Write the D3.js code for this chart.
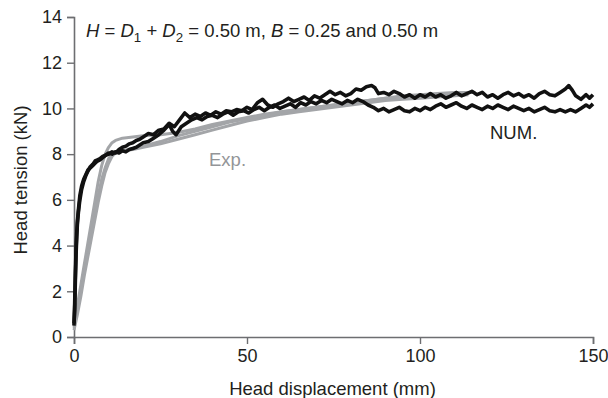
<!DOCTYPE html>
<html>
<head>
<meta charset="utf-8">
<script src="https://cdn.jsdelivr.net/npm/d3@7"></script>
<style>
  html, body { margin: 0; padding: 0; background: #fff; }
  svg { display: block; }
  text { font-family: "Liberation Sans", Arial, sans-serif; fill: #231f20; }
</style>
</head>
<body>
<svg id="chart" width="608" height="398"></svg>
<script>
// ---- Data ----
const xTicks = [0, 50, 100, 150];
const yTicks = [0, 2, 4, 6, 8, 10, 12, 14];
const xLabel = "Head displacement (mm)";
const yLabel = "Head tension (kN)";

// Numerical results (two runs): [displacement mm, tension kN]
const numA = [[0,0.5],[0.2,1.5],[0.4,2.8],[0.6,3.9],[0.8,4.6],[1.0,5.1],[1.3,5.6],[1.7,6.2],[2.2,6.6],[2.8,6.9],[3.4,7.1],[4.0,7.3],[4.7,7.4],[5.4,7.5],[6.1,7.6],[6.8,7.7],[7.5,7.75],[8.3,7.85],[9.1,7.95],[10,8.0],[11,8.1],[12,8.05],[13,8.2],[14,8.3],[15,8.35],[16,8.45],[17,8.5],[18,8.6],[19,8.65],[20,8.75],[21.5,8.9],[23,8.85],[24.5,9.05],[26,9.1],[27.5,9.35],[29,9.2],[30.5,9.5],[32,9.8],[33.5,9.6],[35,9.75],[36.5,9.65],[38,9.8],[39.5,9.7],[41,9.85],[42.5,9.75],[44,9.9],[45.5,9.85],[47,9.95],[48.5,9.9],[50,10.05],[51.5,9.95],[53,10.25],[54.5,10.4],[56,10.15],[57.5,10.05],[59,10.2],[60.5,10.3],[62,10.45],[63.5,10.3],[65,10.4],[66.5,10.5],[68,10.35],[69.5,10.55],[71,10.45],[72.5,10.6],[74,10.75],[75.5,10.6],[77,10.7],[78.5,10.55],[80,10.65],[81.5,10.85],[83,10.8],[84.5,10.95],[86,11.0],[87,10.9],[88,10.65],[89.5,10.7],[91,10.6],[92.5,10.75],[94,10.65],[95.5,10.5],[97,10.6],[98.5,10.45],[100,10.6],[101.5,10.5],[103,10.65],[104.5,10.5],[106,10.6],[107.5,10.45],[109,10.55],[110.5,10.7],[112,10.55],[113.5,10.65],[115,10.75],[116.5,10.6],[118,10.7],[119.5,10.5],[121,10.6],[122.5,10.45],[124,10.6],[125.5,10.7],[127,10.55],[128.5,10.65],[130,10.5],[131.5,10.6],[133,10.45],[134.5,10.65],[136,10.75],[137.5,10.6],[139,10.55],[140.5,10.7],[142,10.85],[143,11.0],[144,10.8],[145,10.55],[146.5,10.4],[148,10.6],[149,10.45],[150,10.6]];
const numB = [[0,0.6],[0.2,1.2],[0.4,2.5],[0.6,3.6],[0.8,4.4],[1.0,5.0],[1.3,5.5],[1.7,6.0],[2.2,6.45],[2.8,6.8],[3.4,7.05],[4.0,7.25],[4.7,7.45],[5.4,7.55],[6.1,7.7],[6.8,7.75],[7.5,7.8],[8.3,7.9],[9.1,7.95],[10,8.05],[11,8.0],[12,8.1],[13,8.05],[14,8.15],[15,8.1],[16,8.2],[17,8.25],[18,8.3],[19,8.4],[20,8.5],[21.5,8.55],[23,8.7],[24.5,8.85],[26,9.05],[27.5,9.3],[28.5,9.0],[29.5,8.85],[31,9.2],[32.5,9.35],[34,9.5],[35.5,9.6],[37,9.5],[38.5,9.65],[40,9.7],[41.5,9.6],[43,9.75],[44.5,9.85],[46,9.7],[47.5,9.85],[49,9.9],[50.5,9.8],[52,9.95],[53.5,10.05],[55,9.9],[56.5,10.05],[58,10.15],[59.5,10.0],[61,10.1],[62.5,10.2],[64,10.05],[65.5,10.25],[67,10.15],[68.5,10.3],[70,10.2],[71.5,10.35],[73,10.25],[74.5,10.4],[76,10.3],[77.5,10.2],[79,10.35],[80.5,10.25],[82,10.4],[83.5,10.3],[85,10.15],[86.5,10.05],[88,9.9],[89.5,10.0],[91,9.85],[92.5,9.95],[94,10.05],[95.5,9.9],[97,9.85],[98.5,10.0],[100,9.9],[101.5,10.05],[103,9.95],[104.5,10.1],[106,10.2],[107.5,10.05],[109,10.15],[110.5,10.25],[112,10.1],[113.5,10.0],[115,10.15],[116.5,10.05],[118,9.95],[119.5,10.1],[121,10.0],[122.5,10.15],[124,10.05],[125.5,9.95],[127,10.1],[128.5,10.0],[130,9.9],[131.5,10.0],[133,9.85],[134.5,9.95],[136,10.05],[137.5,9.9],[139,9.85],[140.5,9.95],[142,9.85],[143.5,9.95],[145,9.85],[146.5,10.0],[148,10.15],[149,10.05],[150,10.2]];

// Experimental results (three tests)
const exp1 = [[0,0.5],[1,1.4],[2,2.3],[3,3.2],[4,4.1],[5,5.0],[6,5.9],[7,6.8],[8,7.5],[9,8.0],[10,8.3],[11,8.5],[12,8.6],[14,8.7],[17,8.75],[20,8.8],[25,8.85],[30,8.95],[35,9.1],[40,9.3],[45,9.45],[50,9.6],[55,9.75],[60,9.85],[65,9.95],[70,10.05],[75,10.15],[80,10.25],[85,10.35],[90,10.45],[95,10.5],[100,10.55],[105,10.6],[110,10.65],[115,10.7]];
const exp2 = [[0,0.4],[1,1.2],[2,2.0],[3,2.9],[4,3.7],[5,4.6],[6,5.4],[7,6.2],[8,6.9],[9,7.4],[10,7.8],[11,8.0],[12,8.1],[14,8.15],[17,8.2],[20,8.3],[25,8.45],[30,8.65],[35,8.85],[40,9.05],[45,9.25],[50,9.45],[55,9.6],[60,9.75],[65,9.85],[70,9.95],[75,10.05],[80,10.15],[85,10.25],[90,10.35],[95,10.4],[100,10.45],[105,10.5],[110,10.55],[114,10.6]];
const exp3 = [[0,0.3],[1,1.0],[2,1.8],[3,2.7],[4,3.5],[5,4.3],[6,5.1],[7,5.9],[8,6.6],[9,7.2],[10,7.6],[11,7.9],[12,8.05],[14,8.15],[17,8.25],[20,8.35],[25,8.55],[30,8.8],[35,9.0],[40,9.2],[45,9.4],[50,9.55],[55,9.7],[60,9.85],[65,9.95],[70,10.05],[75,10.15],[80,10.25],[85,10.35],[90,10.45],[95,10.55],[100,10.6],[105,10.65],[110,10.7],[116,10.7]];

const expSeries = [exp1, exp2, exp3];
const numSeries = [numA, numB];

// ---- Layout ----
const svg = d3.select("#chart");
const margin = {left: 74, right: 15, top: 17, bottom: 61};
const W = 608, H = 398;
const x = d3.scaleLinear().domain([0, 150]).range([margin.left, W - margin.right]);
const y = d3.scaleLinear().domain([0, 14]).range([H - margin.bottom, margin.top]);

const axisColor = "#6d6e71";
const fs = 18.5;

// Axes
const gx = svg.append("g").attr("transform", `translate(0,${y(0)})`)
  .call(d3.axisBottom(x).tickValues(xTicks).tickSize(7).tickPadding(5).tickFormat(d3.format("d")));
const gy = svg.append("g").attr("transform", `translate(${x(0)},0)`)
  .call(d3.axisLeft(y).tickValues(yTicks).tickSize(7).tickPadding(5).tickFormat(d3.format("d")));
[gx, gy].forEach(g => {
  g.select(".domain").attr("stroke", axisColor).attr("stroke-width", 1.6);
  g.selectAll(".tick line").attr("stroke", axisColor).attr("stroke-width", 1.4);
  g.selectAll(".tick text").attr("font-size", 18).attr("font-family", "Liberation Sans, Arial, sans-serif").attr("fill", "#231f20");
});

// Lines
const line = d3.line().x(d => x(d[0])).y(d => y(d[1]));
svg.append("g").selectAll("path.exp").data(expSeries).join("path")
  .attr("class", "exp")
  .attr("d", line)
  .attr("fill", "none")
  .attr("stroke", "#a3a5a8")
  .attr("stroke-width", 3)
  .attr("stroke-linejoin", "round");
svg.append("g").selectAll("path.num").data(numSeries).join("path")
  .attr("class", "num")
  .attr("d", line)
  .attr("fill", "none")
  .attr("stroke", "#111")
  .attr("stroke-width", 3.6)
  .attr("stroke-linejoin", "round");

// Axis titles
svg.append("text")
  .attr("x", 332.5).attr("y", 395)
  .attr("text-anchor", "middle").attr("font-size", fs)
  .text(xLabel);
svg.append("text")
  .attr("transform", `translate(27,180) rotate(-90)`)
  .attr("text-anchor", "middle").attr("font-size", fs)
  .text(yLabel);

// Annotation
const t = svg.append("text").attr("x", 86).attr("y", 37).attr("font-size", fs);
t.append("tspan").attr("font-style", "italic").text("H");
t.append("tspan").text(" = ");
t.append("tspan").attr("font-style", "italic").text("D");
t.append("tspan").attr("font-size", fs * 0.72).attr("dy", 5).text("1");
t.append("tspan").attr("dy", -5).text(" + ");
t.append("tspan").attr("font-style", "italic").text("D");
t.append("tspan").attr("font-size", fs * 0.72).attr("dy", 5).text("2");
t.append("tspan").attr("dy", -5).text(" = 0.50 m, ");
t.append("tspan").attr("font-style", "italic").text("B");
t.append("tspan").text(" = 0.25 and 0.50 m");

svg.append("text").attr("x", 490).attr("y", 139).attr("font-size", fs).text("NUM.");
svg.append("text").attr("x", 209).attr("y", 166).attr("font-size", fs).style("fill", "#939598").text("Exp.");
</script>
</body>
</html>
